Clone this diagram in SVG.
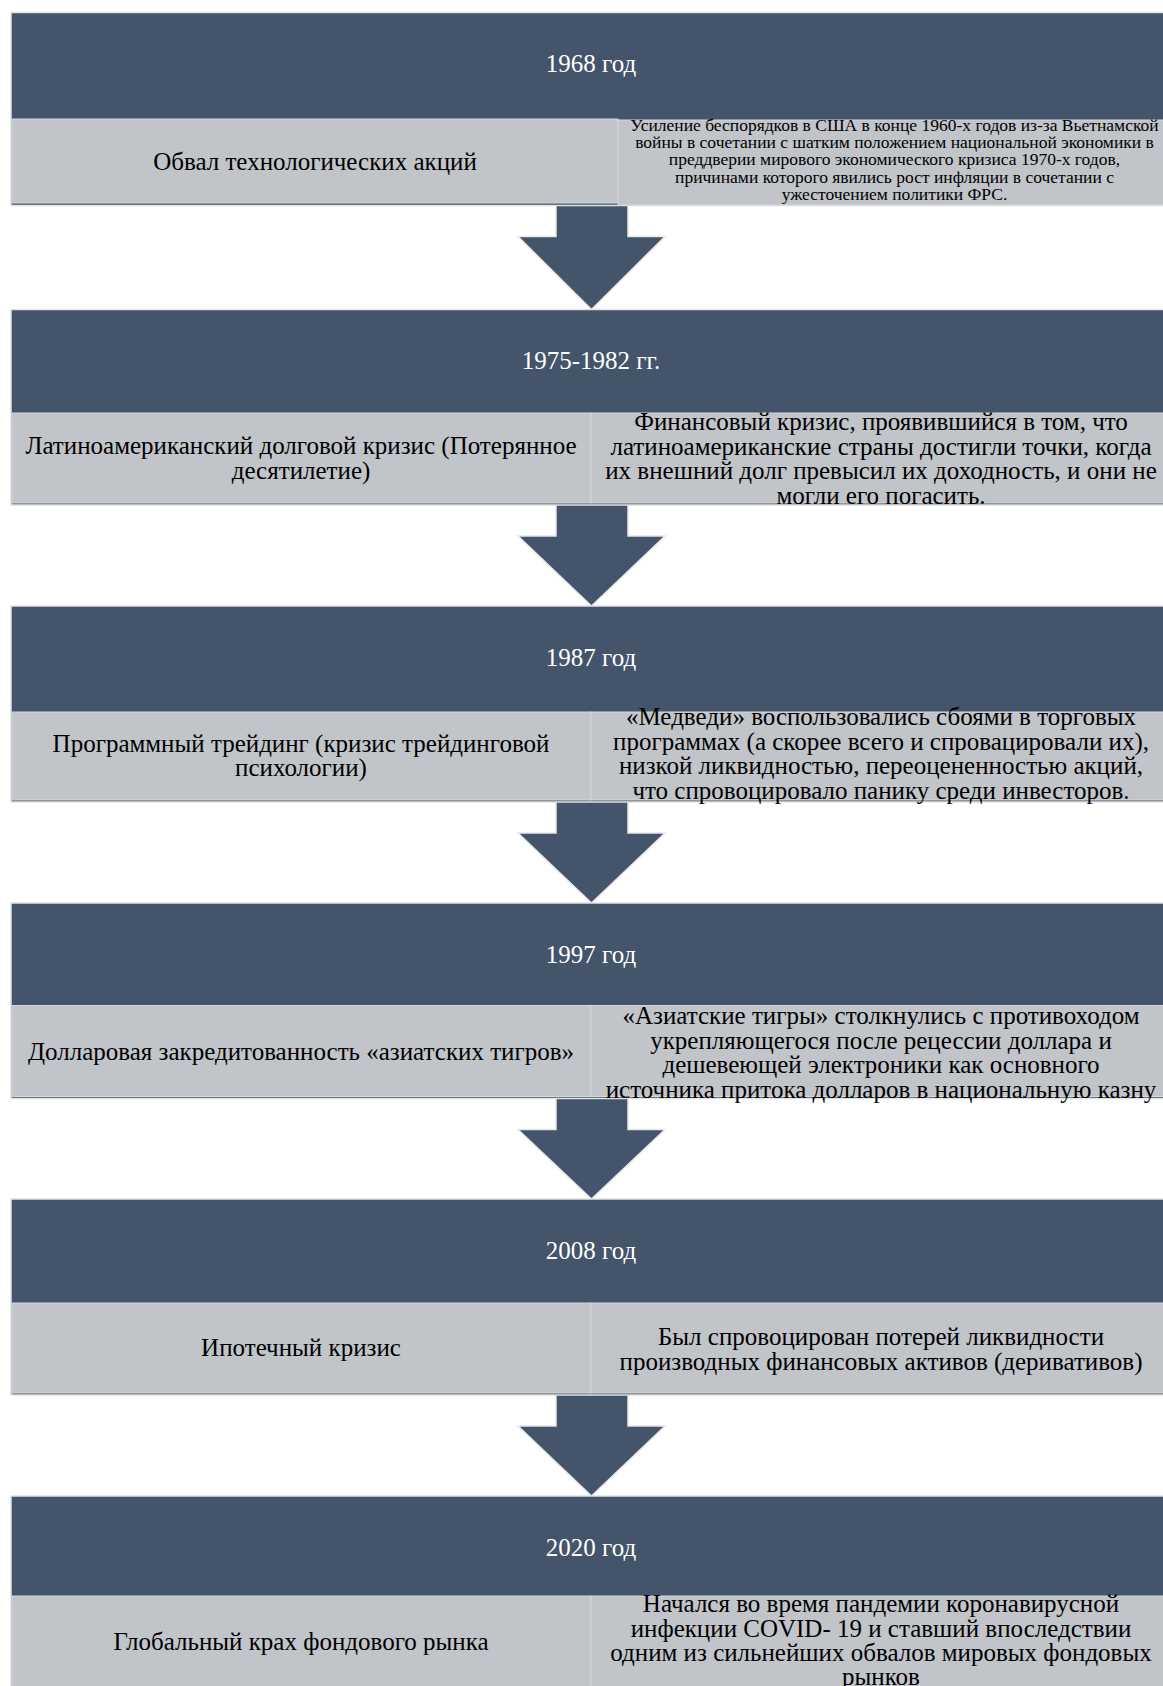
<svg xmlns="http://www.w3.org/2000/svg" width="1163" height="1686" viewBox="0 0 1163 1686">
<style>
.bg{fill:#ffffff}
.dark{fill:#44546a;stroke:#e2e2e2;stroke-width:1.5}
.cell{fill:#c1c4c9;stroke:#d4d6d9;stroke-width:1}
.arrow{fill:#44546a;stroke:#e6e6e6;stroke-width:1.5;stroke-linejoin:miter}
text{font-family:"Liberation Serif","Times New Roman",serif;text-anchor:middle}
.hd{fill:#ffffff;font-size:25px}
.tx{fill:#000000;font-size:25px}
.sm{fill:#000000;font-size:17.5px}
</style>
<rect class="bg" x="0" y="0" width="1163" height="1686"/>
<g id="connectors">
<polygon class="arrow" points="556,203 628,203 628,236.5 665,236.5 591.5,309.5 518,236.5 556,236.5"/>
<polygon class="arrow" points="556,503 628,503 628,536 665,536 591.5,606 518,536 556,536"/>
<polygon class="arrow" points="556,800 628,800 628,833 665,833 591.5,903 518,833 556,833"/>
<polygon class="arrow" points="556,1096.5 628,1096.5 628,1129.5 665,1129.5 591.5,1199 518,1129.5 556,1129.5"/>
<polygon class="arrow" points="556,1393 628,1393 628,1426 665,1426 591.5,1496 518,1426 556,1426"/>
</g>
<g id="block-1968">
<rect class="dark" x="11" y="12.5" width="1160" height="193"/>
<rect class="cell" x="12" y="119" width="606" height="84"/>
<rect class="cell" x="618" y="120" width="552" height="85"/>
<text class="hd" x="591" y="72">1968 год</text>
<text class="tx" x="315" y="169.5">Обвал технологических акций</text>
<text class="sm" x="894.5" y="131">Усиление беспорядков в США в конце 1960-х годов из-за Вьетнамской</text>
<text class="sm" x="894.5" y="148.2">войны в сочетании с шатким положением национальной экономики в</text>
<text class="sm" x="894.5" y="165.4">преддверии мирового экономического кризиса 1970-х годов,</text>
<text class="sm" x="894.5" y="182.6">причинами которого явились рост инфляции в сочетании с</text>
<text class="sm" x="894.5" y="199.8">ужесточением политики ФРС.</text>
</g>
<g id="block-1975">
<rect class="dark" x="11" y="309.5" width="1160" height="195.5"/>
<rect class="cell" x="12" y="413" width="579" height="90"/>
<rect class="cell" x="591" y="413" width="579" height="90"/>
<text class="hd" x="591" y="369">1975-1982 гг.</text>
<text class="tx" x="301" y="454">Латиноамериканский долговой кризис (Потерянное</text>
<text class="tx" x="301" y="479">десятилетие)</text>
<text class="tx" x="881" y="430">Финансовый кризис, проявившийся в том, что</text>
<text class="tx" x="881" y="454.5">латиноамериканские страны достигли точки, когда</text>
<text class="tx" x="881" y="479">их внешний долг превысил их доходность, и они не</text>
<text class="tx" x="881" y="503.5">могли его погасить.</text>
</g>
<g id="block-1987">
<rect class="dark" x="11" y="606" width="1160" height="196"/>
<rect class="cell" x="12" y="712" width="579" height="88"/>
<rect class="cell" x="591" y="712" width="579" height="88"/>
<text class="hd" x="591" y="665.5">1987 год</text>
<text class="tx" x="301" y="751.5">Программный трейдинг (кризис трейдинговой</text>
<text class="tx" x="301" y="776">психологии)</text>
<text class="tx" x="881" y="725">«Медведи» воспользовались сбоями в торговых</text>
<text class="tx" x="881" y="749.5">программах (а скорее всего и спровацировали их),</text>
<text class="tx" x="881" y="774">низкой ликвидностью, переоцененностью акций,</text>
<text class="tx" x="881" y="798.5">что спровоцировало панику среди инвесторов.</text>
</g>
<g id="block-1997">
<rect class="dark" x="11" y="903" width="1160" height="195.5"/>
<rect class="cell" x="12" y="1005.5" width="579" height="91"/>
<rect class="cell" x="591" y="1005.5" width="579" height="91"/>
<text class="hd" x="591" y="962.5">1997 год</text>
<text class="tx" x="301" y="1059.5">Долларовая закредитованность «азиатских тигров»</text>
<text class="tx" x="881" y="1024">«Азиатские тигры» столкнулись с противоходом</text>
<text class="tx" x="881" y="1048.5">укрепляющегося после рецессии доллара и</text>
<text class="tx" x="881" y="1073">дешевеющей электроники как основного</text>
<text class="tx" x="881" y="1097.5">источника притока долларов в национальную казну</text>
</g>
<g id="block-2008">
<rect class="dark" x="11" y="1199" width="1160" height="196"/>
<rect class="cell" x="12" y="1303" width="579" height="90"/>
<rect class="cell" x="591" y="1303" width="579" height="90"/>
<text class="hd" x="591" y="1258.5">2008 год</text>
<text class="tx" x="301" y="1356">Ипотечный кризис</text>
<text class="tx" x="881" y="1345">Был спровоцирован потерей ликвидности</text>
<text class="tx" x="881" y="1369.5">производных финансовых активов (деривативов)</text>
</g>
<g id="block-2020">
<rect class="dark" x="11" y="1496" width="1160" height="200"/>
<rect class="cell" x="12" y="1596" width="579" height="100"/>
<rect class="cell" x="591" y="1596" width="579" height="100"/>
<text class="hd" x="591" y="1555.5">2020 год</text>
<text class="tx" x="301" y="1649.5">Глобальный крах фондового рынка</text>
<text class="tx" x="881" y="1612">Начался во время пандемии коронавирусной</text>
<text class="tx" x="881" y="1636.5">инфекции COVID- 19 и ставший впоследствии</text>
<text class="tx" x="881" y="1661">одним из сильнейших обвалов мировых фондовых</text>
<text class="tx" x="881" y="1685">рынков</text>
</g>
</svg>
